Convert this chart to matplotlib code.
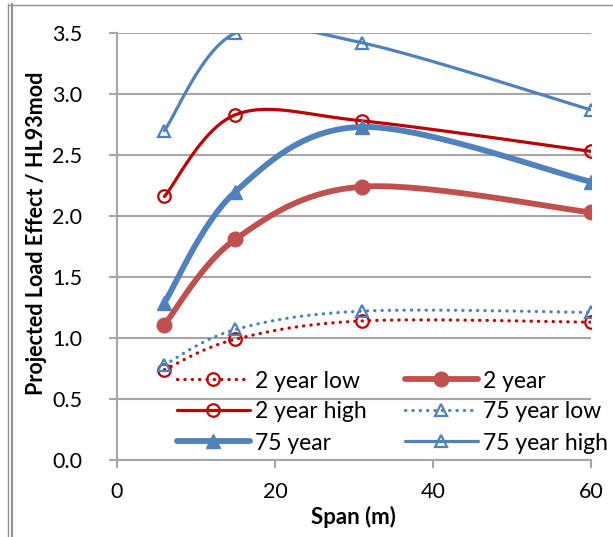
import numpy as np
import matplotlib
matplotlib.use("Agg")
import matplotlib.pyplot as plt
from matplotlib.lines import Line2D

plt.rcParams["font.family"] = ["Lato", "DejaVu Sans"]
plt.rcParams["ytick.major.pad"] = 19
plt.rcParams["xtick.major.pad"] = 10

span = [6, 15, 31, 60]
labels = ["2 year low", "2 year", "2 year high", "75 year low", "75 year", "75 year high"]
y2_low = [0.74, 0.99, 1.14, 1.13]
y2 = [1.11, 1.81, 2.24, 2.03]
y2_high = [2.16, 2.83, 2.78, 2.53]
y75_low = [0.78, 1.07, 1.22, 1.21]
y75 = [1.29, 2.20, 2.73, 2.28]
y75_high = [2.70, 3.50, 3.42, 2.87]

RED = "#C00000"
RED2 = "#C0504D"
BLUE = "#4F81BD"
GRID = "#A6A6A6"


def smooth(x, y, n=40):
    # excel style smoothing: bezier segments, catmull-rom tangents
    x = np.asarray(x, float)
    y = np.asarray(y, float)
    p = np.c_[x, y]
    pts = [p[0]]
    for i in range(len(p) - 1):
        p0 = p[i - 1] if i > 0 else p[i]
        p3 = p[i + 2] if i + 2 < len(p) else p[i + 1]
        c1 = p[i] + (p[i + 1] - p0) / 6.
        c2 = p[i + 1] - (p3 - p[i]) / 6.
        t = np.linspace(0, 1, n + 1)[1:, None]
        seg = ((1 - t) ** 3 * p[i] + 3 * (1 - t) ** 2 * t * c1
               + 3 * (1 - t) * t ** 2 * c2 + t ** 3 * p[i + 1])
        pts.extend(seg)
    pts = np.array(pts)
    marks = [k * n for k in range(len(p))]
    return pts[:, 0], pts[:, 1], marks


fig = plt.figure(figsize=(6.13, 5.37), dpi=100)
W, H = 613., 537.
ax = fig.add_axes([117 / W, 1 - 460 / H, (591 - 117) / W, (460 - 33) / H])

dot = (0, (0.1, 2.2))
series = [
    (y2_low, dict(color=RED, lw=2.3, ls=dot, marker="o", ms=9, mfc="none", mew=1.6)),
    (y2, dict(color=RED2, lw=4.2, ls="-", marker="o", ms=10.5, mfc=RED2, mew=1)),
    (y2_high, dict(color=RED, lw=2.3, ls="-", marker="o", ms=9, mfc="none", mew=1.6)),
    (y75_low, dict(color=BLUE, lw=2.3, ls=dot, marker="^", ms=9, mfc="none", mew=1.6)),
    (y75, dict(color=BLUE, lw=4.2, ls="-", marker="^", ms=10.5, mfc=BLUE, mew=1)),
    (y75_high, dict(color=BLUE, lw=2.3, ls="-", marker="^", ms=9, mfc="none", mew=1.6)),
]

handles = []
for (vals, st), lab in zip(series, labels):
    xs, ys, marks = smooth(span, vals)
    ln, = ax.plot(xs, ys, markevery=marks, label=lab, dash_capstyle="round",
                  solid_capstyle="round", zorder=3, **st)
    handles.append(ln)

ax.set_xlim(0, 60)
ax.set_ylim(0, 3.5)
ax.set_xticks([0, 20, 40, 60])
ax.set_yticks(np.arange(0, 3.51, 0.5))
ax.set_yticklabels([f"{v:.1f}" for v in np.arange(0, 3.51, 0.5)])
ax.yaxis.grid(True, color=GRID, lw=1.5)
ax.set_axisbelow(True)
for s in ["top", "right"]:
    ax.spines[s].set_visible(False)
for s in ["left", "bottom"]:
    ax.spines[s].set_color(GRID)
    ax.spines[s].set_linewidth(1.5)
ax.tick_params(axis="both", colors=GRID, labelcolor="black", labelsize=15.5,
               length=6, width=1.5, direction="out")

ax.set_ylabel("Projected Load Effect / HL93mod", fontsize=15.5, fontweight="bold")
ax.set_xlabel("Span (m)", fontsize=16, fontweight="bold")
ax.yaxis.set_label_coords(-(117 - 37) / 474., (460 - 233) / 427.)
ax.yaxis.label.set_verticalalignment("center")
ax.xaxis.set_label_coords((353 - 117) / 474., (460 - 517) / 427.)
ax.xaxis.label.set_verticalalignment("center")

# legend: two columns, filled row by row as in the original
fs = 16.5
fs_px = fs * 100 / 72.
cols = [([handles[0], handles[2], handles[4]], 177),
        ([handles[1], handles[3], handles[5]], 405)]


def make_legends(top, ls):
    out = []
    for hs, x_px in cols:
        lg = fig.legend(handles=hs, loc="upper left",
                        bbox_to_anchor=(x_px / W, 1 - top / H), frameon=False,
                        fontsize=fs, handlelength=3.18, handletextpad=0.22,
                        labelspacing=ls, borderpad=0, borderaxespad=0)
        out.append(lg)
    return out


top, ls = 367., 0.2
for _ in range(3):
    legs = make_legends(top, ls)
    fig.canvas.draw()
    cy = []
    for t in legs[0].get_texts():
        bb = t.get_window_extent()
        cy.append(H - (bb.y0 + bb.y1) / 2.)
    ls += (31 - (cy[1] - cy[0])) / fs_px
    top += 381 - cy[0]
    for lg in legs:
        lg.remove()
make_legends(top, ls)

# page decorations around the cropped figure
fig.add_artist(Line2D([8 / W, 8 / W], [0, 1 - 4 / H], color="#909090", lw=1))
fig.add_artist(Line2D([12 / W, 12 / W], [0, 1 - 4 / H], color="#909090", lw=1.5))
fig.add_artist(Line2D([8 / W, 1], [1 - 5 / H, 1 - 5 / H], color="#909090", lw=1))

fig.savefig("out.png", dpi=100)
